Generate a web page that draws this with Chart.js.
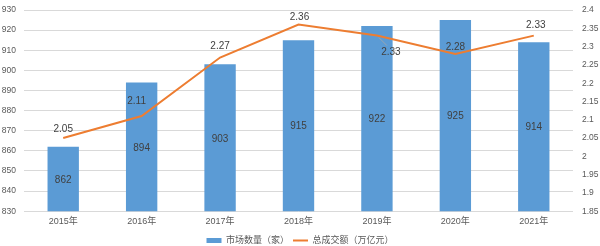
<!DOCTYPE html>
<html><head><meta charset="utf-8">
<script src="https://cdn.jsdelivr.net/npm/chart.js@4/dist/chart.umd.min.js"></script>
<style>html,body{margin:0;padding:0;background:#fff}#w{width:600px;height:246px}</style>
</head><body><div id="w"><canvas id="c"></canvas></div>
<script>
const categories = ['2015年','2016年','2017年','2018年','2019年','2020年','2021年'];
const marketCount = [862, 894, 903, 915, 922, 925, 914];
const totalVolume = [2.05, 2.11, 2.27, 2.36, 2.33, 2.28, 2.33];
const leftTicks = [830, 840, 850, 860, 870, 880, 890, 900, 910, 920, 930];
const rightTicks = [1.85, 1.9, 1.95, 2, 2.05, 2.1, 2.15, 2.2, 2.25, 2.3, 2.35, 2.4];
const seriesNames = ['市场数量（家）', '总成交额（万亿元）'];

const FONT = "'Liberation Sans', Arial, 'Noto Sans CJK SC', sans-serif";
const TXT = '#595959';

const labelPlugin = {
  id: 'vals',
  beforeLayout(chart) {
    const lg = chart.legend;
    if (lg && !lg._patched) {
      lg._patched = true;
      const f = lg.fit;
      lg.fit = function () { f.call(this); this.height = 20; };
    }
  },
  afterDatasetsDraw(chart) {
    const ctx = chart.ctx;
    const ys = chart.scales.y;
    const basePx = ys.getPixelForValue(ys.min);
    ctx.save();
    ctx.font = '10px ' + FONT;
    ctx.fillStyle = '#404040';
    ctx.textAlign = 'center';
    ctx.textBaseline = 'middle';
    chart.getDatasetMeta(0).data.forEach((el, i) => {
      const top = ys.getPixelForValue(marketCount[i]);
      ctx.fillText(String(marketCount[i]), el.x, (top + basePx) / 2 + 1);
    });
    const offs = [[0,-9],[-5,-15],[0,-11],[1,-7],[14,17],[0,-7],[2,-10]];
    chart.getDatasetMeta(1).data.forEach((el, i) => {
      const o = offs[i];
      if (i === 4) {
        ctx.strokeStyle = '#a6a6a6'; ctx.lineWidth = 0.8;
        ctx.beginPath(); ctx.moveTo(el.x + 2, el.y + 2); ctx.lineTo(el.x + 10, el.y + 10); ctx.stroke();
      }
      ctx.fillText(totalVolume[i].toFixed(2), el.x + o[0], el.y + o[1]);
    });
    ctx.restore();
  }
};

function fixV(w) {
  return (s) => { s.width = w; s.paddingTop = 10; s.paddingBottom = 0; };
}

new Chart(document.getElementById('c'), {
  data: {
    labels: categories,
    datasets: [
      { type: 'bar', label: seriesNames[0], data: marketCount, yAxisID: 'y',
        backgroundColor: '#5B9BD5', barPercentage: 0.8, categoryPercentage: 0.5, order: 2 },
      { type: 'line', label: seriesNames[1], data: totalVolume, yAxisID: 'y1',
        borderColor: '#ED7D31', backgroundColor: '#ED7D31', borderWidth: 2,
        pointRadius: 0, tension: 0, order: 1 }
    ]
  },
  options: {
    responsive: true, maintainAspectRatio: false, animation: false,
    layout: { padding: { top: 0, bottom: -6, left: 0, right: 0 } },
    plugins: {
      tooltip: { enabled: false },
      legend: {
        position: 'bottom',
        labels: {
          color: TXT, font: { size: 9, family: FONT },
          usePointStyle: true, boxHeight: 5, pointStyleWidth: 15, padding: 4,
          generateLabels(chart) {
            return chart.data.datasets.map((d, i) => ({
              text: d.label, fillStyle: d.backgroundColor, strokeStyle: d.borderColor || d.backgroundColor,
              lineWidth: i === 1 ? 2 : 0, pointStyle: i === 1 ? 'line' : 'rect',
              datasetIndex: i, hidden: false, fontColor: TXT
            }));
          }
        }
      }
    },
    scales: {
      x: {
        grid: { display: false, drawTicks: false }, border: { display: false },
        ticks: { color: TXT, font: { size: 9, family: FONT }, padding: 5 }
      },
      y: {
        position: 'left', min: 830, max: 930,
        afterBuildTicks(s) { s.ticks = leftTicks.map(v => ({ value: v })); },
        afterFit: fixV(24),
        grid: { color: '#d9d9d9', drawTicks: false }, border: { display: false },
        ticks: { color: TXT, font: { size: 8.5, family: FONT }, padding: 8 }
      },
      y1: {
        position: 'right', min: 1.85, max: 2.4,
        afterBuildTicks(s) { s.ticks = rightTicks.map(v => ({ value: v })); },
        afterFit: fixV(27),
        grid: { display: false, drawTicks: false }, border: { display: false },
        ticks: { color: TXT, font: { size: 8.5, family: FONT }, padding: 9,
          callback: (v) => String(+v.toFixed(2)) }
      }
    }
  },
  plugins: [labelPlugin]
});
</script></body></html>
